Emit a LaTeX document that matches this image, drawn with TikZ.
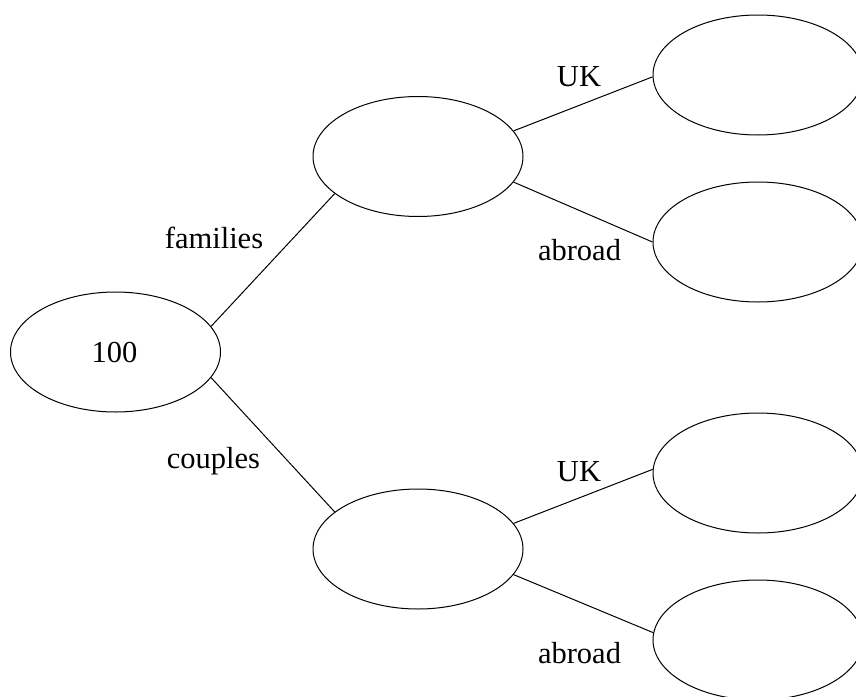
\documentclass[tikz,border=0pt]{standalone}
\usepackage{fontspec}
\setmainfont{Liberation Serif}
\usetikzlibrary{shapes.geometric}
\tikzset{
  oval/.style={draw, ellipse, line width=1pt, minimum width=210pt, minimum height=120pt, inner sep=0pt},
  lbl/.style={anchor=base, inner sep=0pt, font=\fontsize{30.5}{36}\selectfont},
  conn/.style={line width=1pt}
}
\begin{document}
\begin{tikzpicture}[x=1pt,y=-1pt]
\useasboundingbox (0,0) rectangle (856,696);
\clip (0,0) rectangle (856,696);
\node[oval] (root) at (115.5,352) {};
\node[oval] (mu) at (418,156.5) {};
\node[oval] (ml) at (418,549) {};
\node[oval] (r1) at (758,75) {};
\node[oval] (r2) at (758,242) {};
\node[oval] (r3) at (758,473) {};
\node[oval] (r4) at (758,640) {};
\node[lbl] (t100) at (114.5,362) {100};
\node[lbl] (tfam) at (214,248) {families};
\node[lbl] (tcou) at (213.5,468) {couples};
\node[lbl] (tuk1) at (579,86) {UK};
\node[lbl] (tab1) at (579.5,260) {abroad};
\node[lbl] (tuk2) at (579,481) {UK};
\node[lbl] (tab2) at (579.5,663) {abroad};
\draw[conn] (root.15.6) -- (mu.204.3);
\draw[conn] (root.-15) -- (ml.156);
\draw[conn] (mu.15) -- (r1.181);
\draw[conn] (mu.-15) -- (r2.180);
\draw[conn] (ml.15) -- (r3.178);
\draw[conn] (ml.-15) -- (r4.176);
\end{tikzpicture}
\end{document}
